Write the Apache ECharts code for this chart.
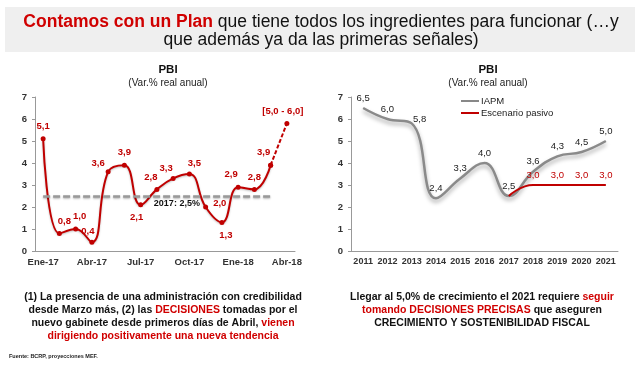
<!DOCTYPE html>
<html><head><meta charset="utf-8">
<script src="https://cdn.jsdelivr.net/npm/echarts@6/dist/echarts.min.js"></script>
<style>html,body{margin:0;padding:0;background:#fff}#c{width:640px;height:368px}</style>
</head><body><div id="c"></div>
<script>
// ---- data ----
const monthCats = ['Ene-17','Feb-17','Mar-17','Abr-17','May-17','Jun-17','Jul-17','Ago-17','Set-17','Oct-17','Nov-17','Dic-17','Ene-18','Feb-18','Mar-18','Abr-18'];
const monthlyPBI = [5.1,0.8,1.0,0.4,3.6,3.9,2.1,2.8,3.3,3.5,2.0,1.3,2.9,2.8,3.9,null];
const projPBI = [null,null,null,null,null,null,null,null,null,null,null,null,null,null,3.9,5.8];
const projLabel = '[5,0 - 6,0]';
const avg2017 = 2.5;
const years = ['2011','2012','2013','2014','2015','2016','2017','2018','2019','2020','2021'];
const iapm = [6.5,6.0,5.8,2.4,3.3,4.0,2.5,3.6,4.3,4.5,5.0];
const pasivo = [null,null,null,null,null,null,2.5,3.0,3.0,3.0,3.0];
const yTicks = [0,1,2,3,4,5,6,7];

// ---- styles (label placement) ----
const RED = '#c00000';
const leftOffsets = [[0,0],[5,0],[4,0],[-4,2],[-10,4],[0,0],[-4,0],[-6,0],[-7,2],[5,2],[0,-4],[4,0],[-7,0],[0,0],[-7,0]];
const leftPos = ['top','top','top','top','top','top','bottom','top','top','top','right','bottom','top','top','top'];
const fmt = v => v.toFixed(1).replace('.', ',');

const leftData = monthlyPBI.map((v,i) => v == null ? null : ({
  value: v,
  label: {position: leftPos[i], offset: leftOffsets[i]}
}));
const projData = projPBI.map((v,i) => v == null ? null : ({
  value: v,
  label: i === projPBI.length - 1 ? {show: true, position: 'top', offset: [-4,0], formatter: projLabel} : {show: false}
}));
const iapmData = iapm.map((v,i) => ({value: v, label: i === 2 ? {offset: [8,6]} : {}}));
const pasivoData = pasivo.map((v,i) => v == null ? null : ({value: v, label: {show: i > 6}}));

const axisTxt = {color: '#333', fontSize: 9.5, fontFamily: 'Liberation Sans, Arial', fontWeight: 'bold'};
const yAxisBase = {
  type: 'value', min: yTicks[0], max: yTicks[yTicks.length-1], interval: 1,
  axisLine: {show: true, lineStyle: {color: '#999'}},
  axisTick: {show: true, length: 3, lineStyle: {color: '#999'}},
  splitLine: {show: false},
  axisLabel: Object.assign({margin: 8}, axisTxt)
};

const chart = echarts.init(document.getElementById('c'), null, {renderer: 'canvas'});
chart.setOption({
  animation: false,
  textStyle: {fontFamily: 'Liberation Sans, Arial'},
  title: [
    {text: 'PBI', subtext: '(Var.% real anual)', left: 163, top: 59, textAlign: 'center', itemGap: 2,
     textStyle: {fontSize: 11.5, fontWeight: 'bold', color: '#111'}, subtextStyle: {fontSize: 10, color: '#222'}},
    {text: 'PBI', subtext: '(Var.% real anual)', left: 483, top: 59, textAlign: 'center', itemGap: 2,
     textStyle: {fontSize: 11.5, fontWeight: 'bold', color: '#111'}, subtextStyle: {fontSize: 10, color: '#222'}}
  ],
  legend: {
    orient: 'vertical', left: 456, top: 91, itemGap: 2, itemWidth: 18, itemHeight: 8,
    textStyle: {fontSize: 9.5, color: '#222', padding: [0,0,0,-3]},
    data: [{name: 'IAPM', icon: 'path://M0,0 L18,0 L18,2 L0,2 Z', itemStyle:{color:'#888'}},
           {name: 'Escenario pasivo', icon: 'path://M0,0 L18,0 L18,2 L0,2 Z', itemStyle:{color: RED}}]
  },
  grid: [
    {left: 35, top: 97, width: 260, height: 154},
    {left: 351, top: 97, width: 267, height: 154}
  ],
  xAxis: [
    {type: 'category', gridIndex: 0, data: monthCats, boundaryGap: true,
     axisLine: {lineStyle: {color: '#999'}},
     axisTick: {interval: 2, length: 4, lineStyle: {color: '#999'}},
     axisLabel: Object.assign({interval: 2, margin: 6}, axisTxt)},
    {type: 'category', gridIndex: 1, data: years, boundaryGap: true,
     axisLine: {lineStyle: {color: '#999'}},
     axisTick: {interval: 0, length: 4, lineStyle: {color: '#999'}},
     axisLabel: Object.assign({}, axisTxt, {interval: 0, margin: 6, fontSize: 9})}
  ],
  yAxis: [
    Object.assign({gridIndex: 0}, yAxisBase),
    Object.assign({gridIndex: 1}, yAxisBase)
  ],
  series: [
    {type: 'line', xAxisIndex: 0, yAxisIndex: 0, data: leftData, smooth: 0.45, connectNulls: false,
     symbol: 'circle', symbolSize: 5, showSymbol: true,
     lineStyle: {color: RED, width: 2, shadowColor: 'rgba(0,0,0,0.25)', shadowBlur: 2, shadowOffsetY: 1},
     itemStyle: {color: RED},
     label: {show: true, color: RED, fontSize: 9.5, fontWeight: 'bold', formatter: p => fmt(p.value)},
     markLine: {silent: true, symbol: 'none',
       lineStyle: {color: '#999', type: [7,3], width: 2.5, shadowColor: 'rgba(0,0,0,0.3)', shadowBlur: 2, shadowOffsetY: 1},
       label: {show: true, position: 'insideMiddleBottom', formatter: '2017: ' + fmt(avg2017) + '%', color: '#111',
               fontSize: 9, fontWeight: 'bold', padding: [0,0,0,40], distance: 3},
       data: [[{coord: [0, avg2017]}, {coord: [14, avg2017]}]]}
    },
    {type: 'line', xAxisIndex: 0, yAxisIndex: 0, data: projData, smooth: false,
     symbol: 'circle', symbolSize: 5,
     lineStyle: {color: RED, width: 2, type: [4,2]}, itemStyle: {color: RED},
     label: {color: RED, fontSize: 9.5, fontWeight: 'bold'}, z: 1},
    {name: 'IAPM', type: 'line', xAxisIndex: 1, yAxisIndex: 1, data: iapmData, smooth: 0.45,
     symbol: 'circle', symbolSize: 0.1, showSymbol: true,
     lineStyle: {color: '#8a8a8a', width: 2.5, shadowColor: 'rgba(0,0,0,0.35)', shadowBlur: 4, shadowOffsetY: 3},
     itemStyle: {color: '#888'},
     label: {show: true, position: 'top', color: '#222', fontSize: 9.5, formatter: p => fmt(p.value)}},
    {name: 'Escenario pasivo', type: 'line', xAxisIndex: 1, yAxisIndex: 1, data: pasivoData, smooth: 0.5,
     symbol: 'circle', symbolSize: 0.1, showSymbol: true,
     lineStyle: {color: RED, width: 2}, itemStyle: {color: RED},
     label: {show: true, position: 'top', color: RED, fontSize: 9.5, formatter: p => fmt(p.value)}}
  ],
  graphic: [
    {type: 'rect', left: 5, top: 7, shape: {width: 630, height: 45}, style: {fill: '#efefef'}, z: -10},
    {type: 'text', x: 321, y: 13, style: {
      text: '{r|Contamos con un Plan}{n| que tiene todos los ingredientes para funcionar (…y}\n{n|que además ya da las primeras señales)}',
      textAlign: 'center', lineHeight: 18,
      rich: {r: {fontSize: 17.5, fontWeight: 'bold', fill: '#d00000', fontFamily: 'Liberation Sans', lineHeight: 18},
             n: {fontSize: 17.5, fill: '#111', fontFamily: 'Liberation Sans', lineHeight: 18}}}},
    {type: 'text', x: 163, y: 290, style: {
      text: '{b|(1) La presencia de una administración con credibilidad}\n{b|desde Marzo más, (2) las }{r|DECISIONES}{b| tomadas por el}\n{b|nuevo gabinete desde primeros días de Abril, }{r|vienen}\n{r|dirigiendo positivamente una nueva tendencia}',
      textAlign: 'center',
      rich: {b: {fontSize: 10.5, fontWeight: 'bold', fill: '#111', lineHeight: 13.3, fontFamily: 'Liberation Sans'},
             r: {fontSize: 10.5, fontWeight: 'bold', fill: '#d00000', lineHeight: 13.3, fontFamily: 'Liberation Sans'}}}},
    {type: 'text', x: 482, y: 290, style: {
      text: '{b|Llegar al 5,0% de crecimiento el 2021 requiere }{r|seguir}\n{r|tomando DECISIONES PRECISAS}{b| que aseguren}\n{b|CRECIMIENTO Y SOSTENIBILIDAD FISCAL}',
      textAlign: 'center',
      rich: {b: {fontSize: 10.5, fontWeight: 'bold', fill: '#111', lineHeight: 13.3, fontFamily: 'Liberation Sans'},
             r: {fontSize: 10.5, fontWeight: 'bold', fill: '#d00000', lineHeight: 13.3, fontFamily: 'Liberation Sans'}}}},
    {type: 'text', x: 9, y: 353, style: {text: 'Fuente: BCRP, proyecciones MEF.', fontSize: 5.5, fontWeight: 'bold', fill: '#222', fontFamily: 'Liberation Sans'}}
  ]
});
</script></body></html>
